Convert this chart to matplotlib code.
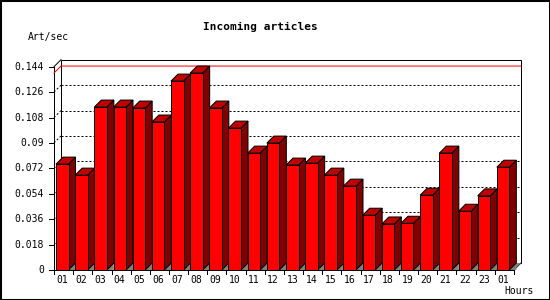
import matplotlib
matplotlib.use("Agg")
import matplotlib.pyplot as plt
from matplotlib.patches import Rectangle, Polygon

# data
hours = ["01", "02", "03", "04", "05", "06", "07", "08", "09", "10", "11", "12",
         "13", "14", "15", "16", "17", "18", "19", "20", "21", "22", "23", "01"]
art_sec = [0.075, 0.0672, 0.1154, 0.1154, 0.1147, 0.1048, 0.1338, 0.1395,
           0.1147, 0.1005, 0.0828, 0.0899, 0.0743, 0.0757, 0.0672, 0.0594,
           0.0388, 0.0326, 0.0331, 0.053, 0.0828, 0.0416, 0.0525, 0.0728]
yticks = [0, 0.018, 0.036, 0.054, 0.072, 0.09, 0.108, 0.126, 0.144]
ytick_labels = ["0", "0.018", "0.036", "0.054", "0.072", "0.09", "0.108", "0.126", "0.144"]

W, H = 550, 300
fig = plt.figure(figsize=(5.5, 3), dpi=100)
fig.patch.set_facecolor("white")

# front plane of the box in pixels
left_px, right_px, bottom_px, top_px = 54, 514, 270, 66.7
ax = fig.add_axes([left_px / W, (H - bottom_px) / H,
                   (right_px - left_px) / W, (bottom_px - top_px) / H])
n = len(art_sec)
ymax = yticks[-1]
ax.set_xlim(0, n)
ax.set_ylim(0, ymax)
ax.axis("off")

px_x = n / (right_px - left_px)        # data units per pixel
px_y = ymax / (bottom_px - top_px)
DX, DY = 7 * px_x, 7 * px_y            # 3d depth
lw = 0.72                               # 1 px

# back wall
ax.add_patch(Rectangle((DX, DY), n, ymax, facecolor="white", edgecolor="black",
                       lw=lw, clip_on=False, zorder=1))
ax.plot([0, 0], [0, ymax], color="black", lw=lw, clip_on=False, zorder=2)
ax.plot([0, DX], [ymax, ymax + DY], color="black", lw=lw, clip_on=False, zorder=2)
ax.plot([0, n], [0, 0], color="black", lw=lw, clip_on=False, zorder=2)
ax.plot([n, n + DX], [0, DY], color="black", lw=lw, clip_on=False, zorder=2)

# grid
for v in yticks[1:-1]:
    ax.plot([DX, n + DX], [v + DY, v + DY], color="black", lw=lw,
            linestyle=(0, (2, 2)), clip_on=False, zorder=2)
    ax.plot([0, DX], [v, v + DY], color="black", lw=lw,
            linestyle=(0, (2, 2)), clip_on=False, zorder=2)

# max line
m = max(art_sec)
ax.plot([0, DX, n + DX], [m, m + DY, m + DY], color="red", lw=lw,
        clip_on=False, zorder=3)

# y ticks
for v, lab in zip(yticks, ytick_labels):
    ax.plot([-5 * px_x, 0], [v, v], color="black", lw=lw, clip_on=False, zorder=2)
    ax.text(-10 * px_x, v, lab, ha="right", va="center", fontsize=7,
            family="DejaVu Sans Mono")

# bars
bw = 12.5 * px_x
off = 2 * px_x
for i, v in enumerate(art_sec):
    xl = i + off
    xr = xl + bw
    z = 4 + i * 0.01
    ax.add_patch(Polygon([(xr, 0), (xr + DX, DY), (xr + DX, 0)], closed=True,
                         facecolor="#808080", edgecolor="none", zorder=z,
                         clip_on=False))
    ax.add_patch(Polygon([(xr, 0), (xr + DX, DY), (xr + DX, v + DY), (xr, v)],
                         closed=True, facecolor="#800000", edgecolor="black",
                         lw=lw, zorder=z, clip_on=False))
    ax.add_patch(Polygon([(xl, v), (xl + DX, v + DY), (xr + DX, v + DY), (xr, v)],
                         closed=True, facecolor="#c00000", edgecolor="black",
                         lw=lw, zorder=z, clip_on=False))
    ax.add_patch(Rectangle((xl, 0), bw, v, facecolor="#ff0000", edgecolor="black",
                           lw=lw, zorder=z, clip_on=False))
    ax.text(xl + bw / 2, -10 * px_y, hours[i], ha="center", va="center",
            fontsize=7, family="DejaVu Sans Mono")

# floor strip after last bar
xr_last = n - 1 + off + bw
ax.add_patch(Polygon([(xr_last, 0), (n, 0), (n + DX, DY), (xr_last + DX, DY)],
                     closed=True, facecolor="#808080", edgecolor="none",
                     zorder=3.5, clip_on=False))

# x ticks
for k in range(n + 1):
    ax.plot([k, k], [0, -4 * px_y], color="black", lw=lw, clip_on=False, zorder=2)

# texts
fig.text(260 / W, 1 - 26.7 / H, "Incoming articles", ha="center", va="center",
         fontsize=8, fontweight="bold", family="DejaVu Sans Mono")
fig.text(28 / W, 1 - 37 / H, "Art/sec", ha="left", va="center",
         fontsize=7, family="DejaVu Sans Mono")
fig.text(534 / W, 1 - 291.5 / H, "Hours", ha="right", va="center",
         fontsize=7, family="DejaVu Sans Mono")

# outer border
fig.patches.append(Rectangle((0, 0), 1, 1, transform=fig.transFigure,
                             fill=False, edgecolor="black", lw=2.2))

fig.savefig("out.png", dpi=100)
